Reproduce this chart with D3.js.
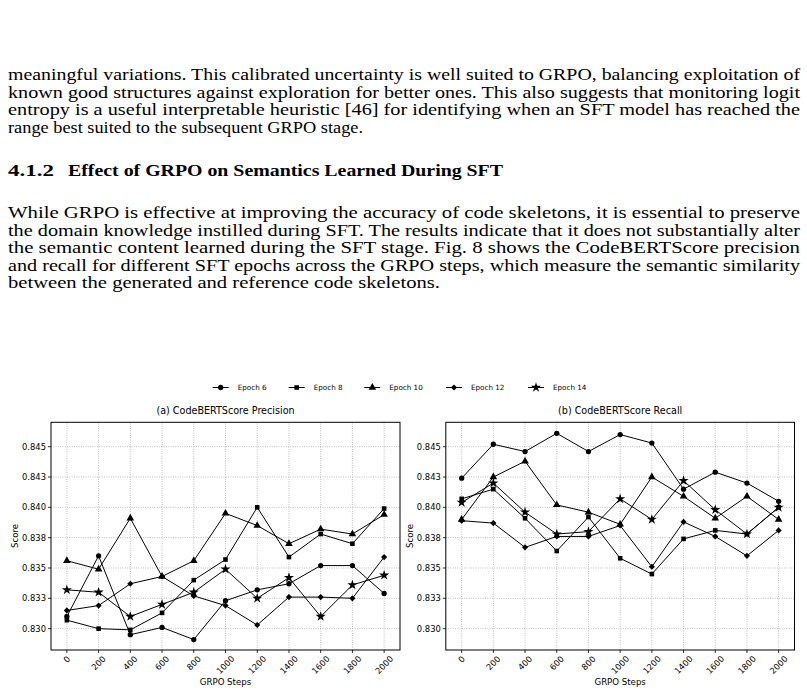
<!DOCTYPE html>
<html>
<head>
<meta charset="utf-8">
<script src="https://cdn.jsdelivr.net/npm/d3@7"></script>
<style>
  body { margin: 0; background: #fff; }
  svg { display: block; }
</style>
</head>
<body>
<div id="page"></div>
<script>
// GRPO steps (x axis)
const steps = [0, 200, 400, 600, 800, 1000, 1200, 1400, 1600, 1800, 2000];
const epochs = ["Epoch 6", "Epoch 8", "Epoch 10", "Epoch 12", "Epoch 14"];

// (a) CodeBERTScore precision
const precE6  = [0.8310, 0.8360, 0.8295, 0.8301, 0.8291, 0.8323, 0.8332, 0.8337, 0.8352, 0.8352, 0.8329];
const precE8  = [0.8307, 0.8300, 0.8299, 0.8313, 0.8340, 0.8357, 0.8400, 0.8359, 0.8378, 0.8370, 0.8399];
const precE10 = [0.8356, 0.8349, 0.8391, 0.8343, 0.8356, 0.8395, 0.8385, 0.8370, 0.8382, 0.8378, 0.8394];
const precE12 = [0.8315, 0.8319, 0.8337, 0.8343, 0.8327, 0.8319, 0.8303, 0.8326, 0.8326, 0.8325, 0.8359];
const precE14 = [0.8332, 0.8330, 0.8310, 0.8320, 0.8330, 0.8349, 0.8325, 0.8342, 0.8310, 0.8336, 0.8344];

// (b) CodeBERTScore recall
const recE6  = [0.8424, 0.8452, 0.8446, 0.8461, 0.8446, 0.8460, 0.8453, 0.8415, 0.8429, 0.8420, 0.8405];
const recE8  = [0.8407, 0.8415, 0.8391, 0.8364, 0.8392, 0.8358, 0.8345, 0.8374, 0.8381, 0.8378, 0.8400];
const recE10 = [0.8390, 0.8425, 0.8438, 0.8402, 0.8396, 0.8386, 0.8425, 0.8409, 0.8391, 0.8409, 0.8390];
const recE12 = [0.8389, 0.8387, 0.8367, 0.8376, 0.8376, 0.8385, 0.8351, 0.8388, 0.8376, 0.8360, 0.8381];
const recE14 = [0.8404, 0.8420, 0.8396, 0.8378, 0.8380, 0.8407, 0.8390, 0.8422, 0.8398, 0.8378, 0.8400];

// y ticks and their printed labels
const yTicks = [0.8300, 0.8325, 0.8350, 0.8375, 0.8400, 0.8425, 0.8450];
const yTickLabels = ["0.830", "0.833", "0.835", "0.838", "0.840", "0.843", "0.845"];

// page text
const para1 = [
  "meaningful variations. This calibrated uncertainty is well suited to GRPO, balancing exploitation of",
  "known good structures against exploration for better ones. This also suggests that monitoring logit",
  "entropy is a useful interpretable heuristic [46] for identifying when an SFT model has reached the",
  "range best suited to the subsequent GRPO stage."
];
const para2 = [
  "While GRPO is effective at improving the accuracy of code skeletons, it is essential to preserve",
  "the domain knowledge instilled during SFT. The results indicate that it does not substantially alter",
  "the semantic content learned during the SFT stage. Fig. 8 shows the CodeBERTScore precision",
  "and recall for different SFT epochs across the GRPO steps, which measure the semantic similarity",
  "between the generated and reference code skeletons."
];

const width = 807, height = 693;
const svg = d3.select("#page").append("svg")
    .attr("width", width)
    .attr("height", height);

// ---- text block ----
const serif = "'Liberation Serif', 'Times New Roman', serif";
const bodySize = 15.8;
function textLines(lines, y0, lastLen) {
    lines.forEach((t, i) => {
        const last = i === lines.length - 1;
        svg.append("text")
            .attr("x", 8)
            .attr("y", y0 + i * 17.6)
            .attr("font-family", serif)
            .attr("font-size", bodySize)
            .attr("textLength", last ? lastLen : 792)
            .attr("lengthAdjust", "spacingAndGlyphs")
            .text(t);
    });
}
textLines(para1, 80, 355);

const head = svg.append("text")
    .attr("y", 176)
    .attr("font-family", serif)
    .attr("font-weight", "bold")
    .attr("font-size", 17);
head.append("tspan").attr("x", 8).attr("textLength", 46)
    .attr("lengthAdjust", "spacingAndGlyphs").text("4.1.2");
head.append("tspan").attr("x", 68).attr("textLength", 435)
    .attr("lengthAdjust", "spacingAndGlyphs")
    .text("Effect of GRPO on Semantics Learned During SFT");

textLines(para2, 218, 432);

// ---- chart ----
const sans = "'DejaVu Sans', sans-serif";
const fs = 8.4;

const y = d3.scaleLinear()
    .domain([0.82824, 0.84701])
    .range([650, 422.3]);

const symbols = [
    d3.symbol().type(d3.symbolCircle).size(22),
    d3.symbol().type(d3.symbolSquare).size(21),
    d3.symbol().type(d3.symbolTriangle).size(25),
    d3.symbol().type(d3.symbolSquare).size(19),
    d3.symbol().type(d3.symbolStar).size(32)
];
const rot = [0, 0, 0, 45, 0];

function drawPanel(x0, x1, title, series) {
    const x = d3.scaleLinear().domain([-100, 2100]).range([x0, x1]);
    const g = svg.append("g");

    // grid
    g.selectAll(".gx").data(steps).enter().append("line")
        .attr("x1", d => x(d)).attr("x2", d => x(d))
        .attr("y1", y.range()[0]).attr("y2", y.range()[1])
        .attr("stroke", "#b0b0b0").attr("stroke-width", 0.8)
        .attr("stroke-dasharray", "1,1.3");
    g.selectAll(".gy").data(yTicks).enter().append("line")
        .attr("x1", x0).attr("x2", x1)
        .attr("y1", d => y(d)).attr("y2", d => y(d))
        .attr("stroke", "#b0b0b0").attr("stroke-width", 0.8)
        .attr("stroke-dasharray", "1,1.3");

    // lines + markers
    const line = d3.line().x((d, i) => x(steps[i])).y(d => y(d));
    series.forEach((vals, k) => {
        g.append("path")
            .attr("d", line(vals))
            .attr("fill", "none")
            .attr("stroke", "#000")
            .attr("stroke-width", 1);
        g.selectAll(".m" + k).data(vals).enter().append("path")
            .attr("d", symbols[k])
            .attr("transform", (d, i) => `translate(${x(steps[i])},${y(d)}) rotate(${rot[k]})`)
            .attr("fill", "#000");
    });

    // frame
    g.append("rect")
        .attr("x", x0).attr("y", y.range()[1])
        .attr("width", x1 - x0).attr("height", y.range()[0] - y.range()[1])
        .attr("fill", "none").attr("stroke", "#000").attr("stroke-width", 1);

    // y ticks
    yTicks.forEach((t, i) => {
        g.append("line").attr("x1", x0 - 3).attr("x2", x0)
            .attr("y1", y(t)).attr("y2", y(t)).attr("stroke", "#000").attr("stroke-width", 0.8);
        g.append("text")
            .attr("x", x0 - 5).attr("y", y(t))
            .attr("text-anchor", "end").attr("dy", "0.35em")
            .attr("font-family", sans).attr("font-size", fs)
            .text(yTickLabels[i]);
    });

    // x ticks, rotated 45°
    steps.forEach(s => {
        g.append("line").attr("x1", x(s)).attr("x2", x(s))
            .attr("y1", 650).attr("y2", 653).attr("stroke", "#000").attr("stroke-width", 0.8);
        const t = g.append("text")
            .attr("text-anchor", "middle").attr("dy", "0.35em")
            .attr("font-family", sans).attr("font-size", fs)
            .text(s);
        const w = t.node().getComputedTextLength();
        const cy = 654 + (w + fs * 1.1) / 2.83;
        t.attr("transform", `translate(${x(s)},${cy}) rotate(-45)`);
    });

    g.append("text")
        .attr("x", (x0 + x1) / 2).attr("y", 685)
        .attr("text-anchor", "middle")
        .attr("font-family", sans).attr("font-size", 8.6)
        .text("GRPO Steps");
    g.append("text")
        .attr("transform", `translate(${x0 - 36},536) rotate(-90)`)
        .attr("text-anchor", "middle").attr("dy", "0.35em")
        .attr("font-family", sans).attr("font-size", 8.6)
        .text("Score");
    g.append("text")
        .attr("x", (x0 + x1) / 2).attr("y", 414)
        .attr("text-anchor", "middle")
        .attr("font-family", sans).attr("font-size", 9.6)
        .text(title);
}

drawPanel(51, 400, "(a) CodeBERTScore Precision", [precE6, precE8, precE10, precE12, precE14]);
drawPanel(445.8, 794.5, "(b) CodeBERTScore Recall", [recE6, recE8, recE10, recE12, recE14]);

// legend
const legendX = [220.7, 296.7, 372.3, 454, 536];
const legY = 387.5;
epochs.forEach((e, k) => {
    const lg = svg.append("g");
    lg.append("line")
        .attr("x1", legendX[k] - 8).attr("x2", legendX[k] + 8)
        .attr("y1", legY).attr("y2", legY)
        .attr("stroke", "#000").attr("stroke-width", 1);
    lg.append("path")
        .attr("d", symbols[k])
        .attr("transform", `translate(${legendX[k]},${legY}) rotate(${rot[k]})`)
        .attr("fill", "#000");
    lg.append("text")
        .attr("x", legendX[k] + 17).attr("y", legY)
        .attr("dy", "0.35em")
        .attr("font-family", sans).attr("font-size", 7.2)
        .text(e);
});
</script>
</body>
</html>
